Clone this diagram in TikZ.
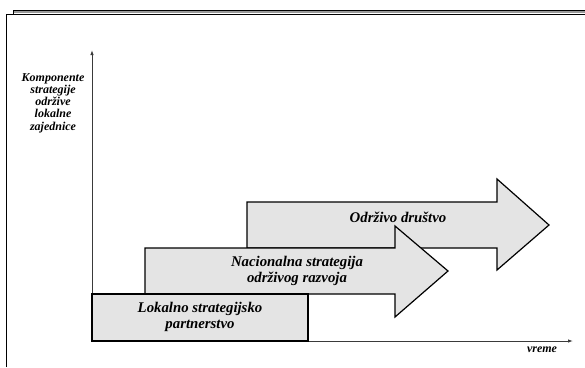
\documentclass[tikz,border=0pt]{standalone}
\usepackage{fontspec}
\setmainfont{Liberation Serif}
\usetikzlibrary{arrows.meta}
\definecolor{boxfill}{HTML}{E4E4E4}
\definecolor{framegray}{HTML}{9A9A9A}
\definecolor{axisgray}{HTML}{3A3A3A}
\begin{document}
\begin{tikzpicture}[x=1pt,y=-1pt,
  stage/.style={draw=black,line width=1.2pt,fill=boxfill,line join=miter},
  stagetext/.style={font=\fontsize{14.8}{16}\selectfont\bfseries\itshape,align=center,inner sep=0pt},
  axislabel/.style={font=\fontsize{12}{12.3}\selectfont\bfseries\itshape,align=center,inner sep=0pt},
  axisline/.style={draw=axisgray,line width=0.9pt,-{Latex[length=5pt,width=3.5pt]}}]
\useasboundingbox (0,0) rectangle (585,367);
\fill[white] (0,0) rectangle (585,367);

% window frame along the top and left
\fill[framegray] (13,10) rectangle (585,13);
\draw[black,line width=0.6pt] (13,10) -- (585,10);
\draw[black,line width=0.9pt] (6.5,367) -- (6.5,14) -- (585,14);
\draw[black,line width=0.9pt] (13,14) -- (13,10);

% axes
\coordinate (O) at (92,341);
\coordinate (ytip) at (92,50);
\coordinate (xtip) at (573,341);
\draw[axisline] (O) -- (ytip);
\draw[axisline] (O) -- (xtip);

\node[axislabel] (ylab) at (53,103) {Komponente\\strategije\\održive\\lokalne\\zajednice};
\node[axislabel,anchor=base] (xlab) at (542,352) {vreme};

% stage three: arrow
\draw[stage] (247,202) -- (497,202) -- (497,179) -- (549,225) -- (497,270)
  -- (497,248) -- (247,248) -- cycle;
\node[stagetext] (s3) at (398,217) {Održivo društvo};

% stage two: arrow
\draw[stage] (145,248) -- (395,248) -- (395,226) -- (448,271) -- (395,317)
  -- (395,294) -- (145,294) -- cycle;
\node[stagetext] (s2) at (297,271) {Nacionalna strategija\\održivog razvoja};

% stage one: box
\draw[stage] (92,294) rectangle (308,341);
\node[stagetext] (s1) at (200,317) {Lokalno strategijsko\\partnerstvo};
\end{tikzpicture}
\end{document}
